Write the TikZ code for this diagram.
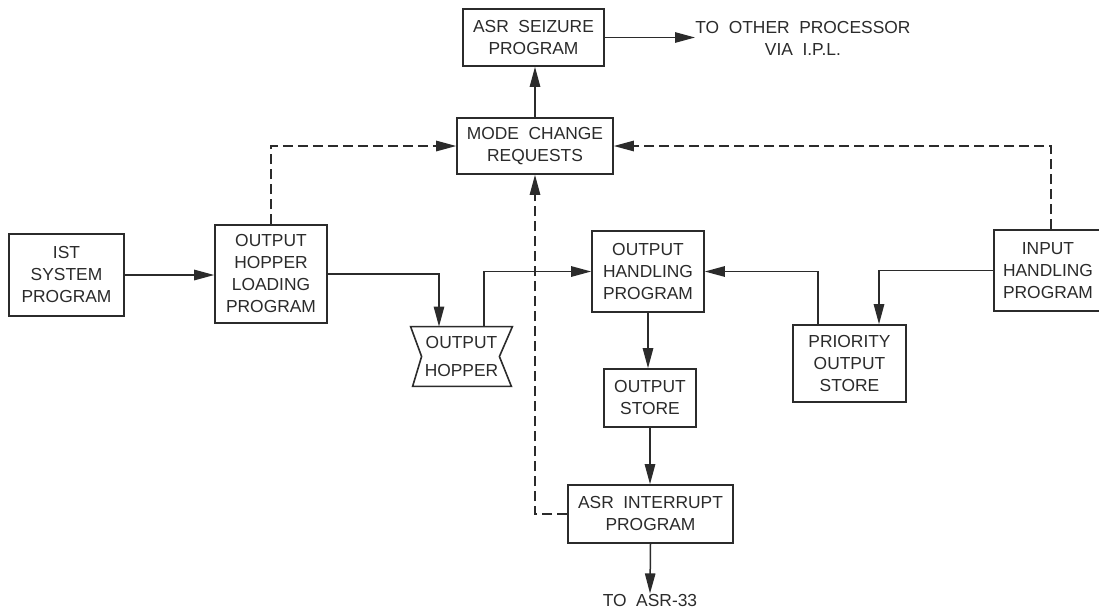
\documentclass[tikz,border=0pt]{standalone}
\usepackage{fontspec}
\setmainfont{Liberation Sans}
\usetikzlibrary{arrows.meta}
\definecolor{ink}{HTML}{2B2B2B}
\newcommand{\wsp}{\hspace{0.55em}}
\begin{document}
\begin{tikzpicture}[
  x=0.5pt, y=-0.5pt,
  font=\fontsize{8.7}{11}\selectfont,
  every node/.style={text=ink},
  box/.style={draw=ink, line width=0.8pt, align=center, inner sep=0pt},
  arr/.style={draw=ink, line width=0.75pt, -{Triangle[length=10pt,width=5.2pt]}},
  dsh/.style={arr, dash pattern=on 5pt off 2.5pt},
  lbl/.style={align=center, inner sep=0pt}
]
\useasboundingbox (0,0) rectangle (1099,612);
\fill[white] (0,0) rectangle (1099,612);

% program blocks
\node[box, minimum width=57.5pt, minimum height=41pt] (ist) at (66.5,275) {IST\\SYSTEM\\PROGRAM};
\node[box, minimum width=56pt, minimum height=49pt] (ohlp) at (271,274) {OUTPUT\\HOPPER\\LOADING\\PROGRAM};
\node[box, minimum width=78pt, minimum height=28pt] (mcr) at (535,146) {MODE\wsp CHANGE\\REQUESTS};
\node[box, minimum width=70.5pt, minimum height=28.5pt] (seize) at (533.5,37.5) {ASR\wsp SEIZURE\\PROGRAM};
\node[box, minimum width=56pt, minimum height=40.5pt] (ohp) at (648,271.5) {OUTPUT\\HANDLING\\PROGRAM};
\node[box, minimum width=46pt, minimum height=29pt] (ostore) at (650,398) {OUTPUT\\STORE};
\node[box, minimum width=82.5pt, minimum height=29pt] (intr) at (650.5,514) {ASR\wsp INTERRUPT\\PROGRAM};
\node[box, minimum width=56.5pt, minimum height=38.5pt] (pos) at (849.5,363.5) {PRIORITY\\OUTPUT\\STORE};
\node[box, minimum width=54pt, minimum height=40.5pt] (ihp) at (1048,270.5) {INPUT\\HANDLING\\PROGRAM};

% output hopper: block with notched sides
\node[lbl, minimum width=50.5pt, minimum height=29.5pt] (hopper) at (461.5,356.5) {OUTPUT\\[3pt]HOPPER};
\draw[ink, line width=0.8pt, line join=miter]
  (hopper.north west) -- (hopper.north east) -- ([xshift=-6.5pt]hopper.east)
  -- ([xshift=-0.5pt]hopper.south east) -- ([xshift=1pt]hopper.south west)
  -- ([xshift=5.5pt]hopper.west) -- cycle;

% free-standing labels
\node[lbl, anchor=west] (other) at (695,38.5) {TO\wsp OTHER\wsp PROCESSOR\\VIA\wsp I.P.L.};
\node[lbl] (asr33) at (650,600) {TO\wsp ASR-33};

% data flow
\draw[arr] (ist.east) -- (ist.east -| ohlp.west);
\draw[arr] (ohlp.east) -| ([xshift=-11.25pt]hopper.north);
\draw[arr] ([xshift=11.25pt]hopper.north) |- (ohp.west);
\draw[arr] (ohp.south) -- (ohp.south |- ostore.north);
\draw[arr] (ostore.south) -- (ostore.south |- intr.north);
\draw[arr] (intr.south) -- (asr33.north);
\draw[arr] ([xshift=-15.75pt]pos.north) |- (ohp.east);
\draw[arr] (ihp.west) -| ([xshift=14.75pt]pos.north);
\draw[arr] (mcr.north) -- (mcr.north |- seize.south);
\draw[arr] (seize.east) -- (seize.east -| other.west);

% mode change signals
\draw[dsh] (ohlp.north) |- (mcr.west);
\draw[dsh] ([xshift=1.5pt]ihp.north) |- (mcr.east);
\draw[dsh] (intr.west) -| (mcr.south);
\end{tikzpicture}
\end{document}
